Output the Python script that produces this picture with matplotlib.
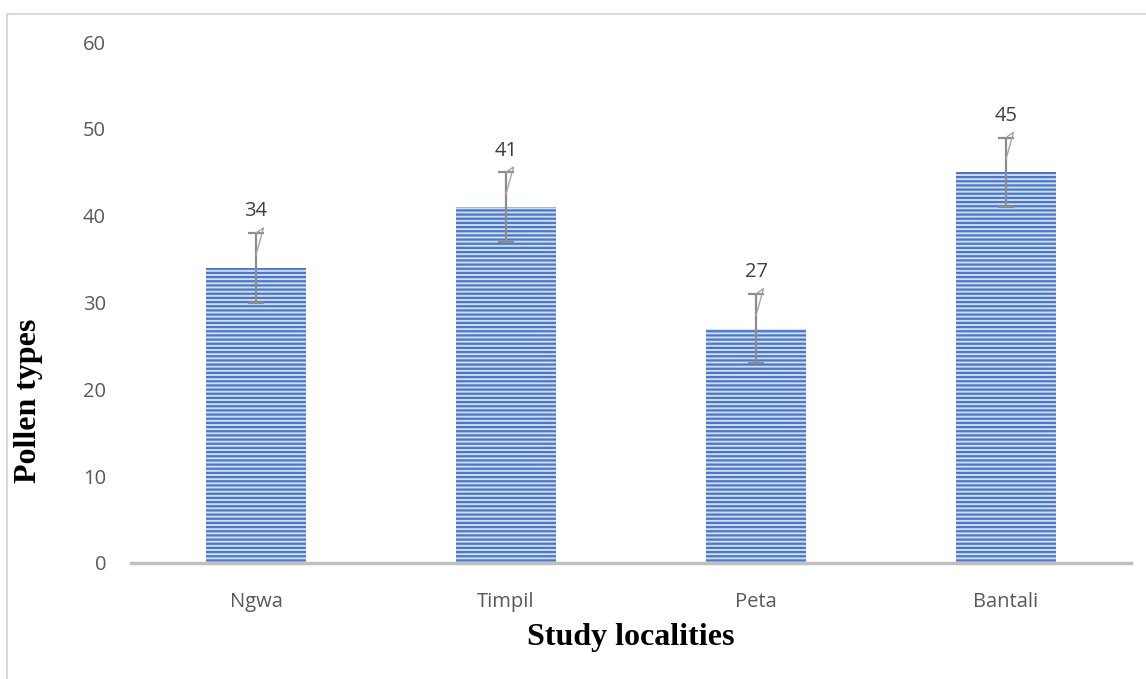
import matplotlib.pyplot as plt
from matplotlib.patches import Rectangle

localities = ["Ngwa", "Timpil", "Peta", "Bantali"]
pollen_types = [34, 41, 27, 45]
errors = [4, 4, 4, 4]
yticks = [0, 10, 20, 30, 40, 50, 60]

W, H = 1146, 679

fig = plt.figure(figsize=(W / 100, H / 100), dpi=100)
ax = fig.add_axes([131 / W, 1 - 563 / H, 1000 / W, (563 - 42) / H])

x = range(len(localities))
plt.rcParams["hatch.linewidth"] = 1.6
ax.bar(x, pollen_types, width=0.4, color="#cfdcf1", edgecolor="#4a78c6",
       hatch="----", linewidth=0, zorder=2)

ax.errorbar(x, pollen_types, yerr=errors, fmt="none", ecolor="#8c8c8c",
            elinewidth=1.6, capsize=6, capthick=1.6, zorder=3)

# thin stray leader strokes next to each error bar, as in the source
for xi, v, e in zip(x, pollen_types, errors):
    ax.plot([xi, xi + 0.03, xi], [v + 1.5, v + e + 0.6, v + e],
            color="#a6a6a6", linewidth=1.0, zorder=3)
    ax.text(xi, v + 6.5, str(v), ha="center", va="center",
            fontsize=14.5, color="#404040", family="Open Sans")

ax.set_xlim(-0.5, 3.5)
ax.set_ylim(0, 60)
ax.set_yticks(yticks)
ax.set_xticks(list(x))
ax.set_xticklabels(localities)

for s in ["top", "right", "left"]:
    ax.spines[s].set_visible(False)
ax.spines["bottom"].set_color("#bfbfbf")
ax.spines["bottom"].set_linewidth(2.5)
ax.spines["bottom"].set_zorder(4)

ax.tick_params(axis="both", length=0, labelsize=14.5, labelcolor="#595959")
ax.tick_params(axis="y", pad=18)
ax.tick_params(axis="x", pad=21)
for lab in ax.get_xticklabels() + ax.get_yticklabels():
    lab.set_family("Open Sans")

fig.text(631 / W, 1 - 638 / H, "Study localities", ha="center", va="center",
         fontsize=23, fontweight="bold", family="Liberation Serif")
fig.text(29 / W, 1 - 401 / H, "Pollen types", ha="center", va="center",
         rotation=90, fontsize=23, fontweight="bold", family="Liberation Serif")

fig.patches.append(Rectangle((7 / W, -0.1), 1.2, 1 - 13.5 / H + 0.1,
                             transform=fig.transFigure, fill=False,
                             edgecolor="#d9d9d9", linewidth=1.5))

fig.savefig("out.png", dpi=100)
